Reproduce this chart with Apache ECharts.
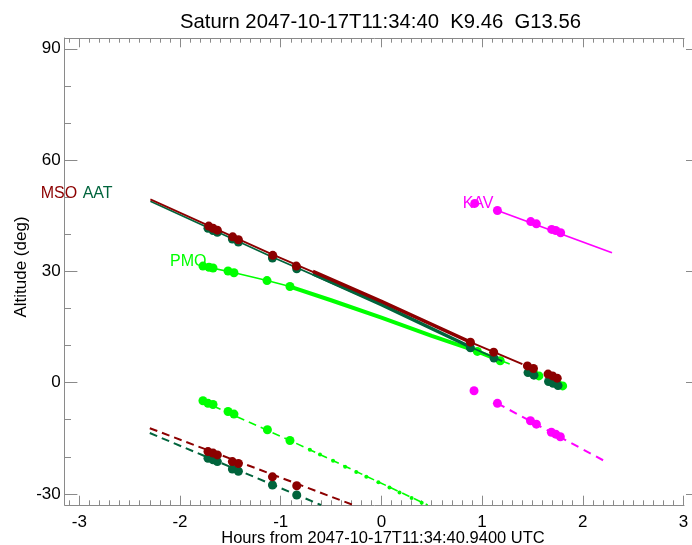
<!DOCTYPE html>
<html>
<head>
<meta charset="utf-8">
<script src="https://cdn.jsdelivr.net/npm/echarts@6/dist/echarts.min.js"></script>
<style>
html,body{margin:0;padding:0;background:#fff;}
#c{width:692px;height:545px;}
</style>
</head>
<body>
<div id="c"></div>
<script>
// ---------- data (hours from reference time, altitude deg) ----------
var titleText = 'Saturn 2047-10-17T11:34:40  K9.46  G13.56';
var xName = 'Hours from 2047-10-17T11:34:40.9400 UTC';
var yName = 'Altitude (deg)';

var xMajorTicks = [-3, -2, -1, 0, 1, 2, 3];
var yMajorTicks = [-30, 0, 30, 60, 90];
var yMinorTicks = [-20, -10, 10, 20, 40, 50, 70, 80];

// MSO
var msoLine = [[-2.294, 49.4], [-1.079, 34.5], [0.0, 21.9], [0.884, 10.9], [1.40, 5.0]];
var msoThick = [[-0.68, 30.0], [0.0, 21.9], [0.884, 10.9]];
var msoDotsX = [-1.715, -1.672, -1.629, -1.477, -1.42, -1.079, -0.845, 0.884, 1.115, 1.45, 1.51, 1.655, 1.70, 1.746];
var msoDotsY = [42.2, 41.6, 41.1, 39.3, 38.5, 34.3, 31.4, 10.9, 8.2, 4.5, 3.8, 2.3, 1.8, 1.2];
var msoLow = [[-2.30, -12.3], [-0.28, -33.0]];
var msoLowDotsX = [-1.722, -1.672, -1.629, -1.48, -1.42, -1.082, -0.841];
var msoLowDotsY = [-18.6, -19.0, -19.5, -21.3, -21.8, -25.4, -27.8];

// AAT
var aatLine = [[-2.294, 48.9], [-1.079, 33.8], [0.0, 21.0], [0.884, 9.6], [1.20, 5.8]];
var aatThick = [[-0.68, 29.3], [0.0, 21.0], [0.884, 9.6]];
var aatDotsX = [-1.722, -1.672, -1.629, -1.48, -1.42, -1.082, -0.841, 0.884, 1.118, 1.456, 1.515, 1.66, 1.705, 1.754];
var aatDotsY = [41.6, 41.0, 40.5, 38.7, 37.9, 33.6, 30.7, 9.4, 6.6, 2.7, 2.0, 0.3, -0.2, -0.8];
var aatLow = [[-2.30, -13.6], [-0.60, -33.0]];
var aatLowDotsX = [-1.722, -1.672, -1.629, -1.48, -1.42, -1.082, -0.841];
var aatLowDotsY = [-20.4, -20.8, -21.3, -23.3, -23.9, -27.6, -30.3];

// PMO
var pmoLine = [[-1.772, 31.4], [-1.46, 29.6], [-1.136, 27.5], [-0.908, 25.9], [-0.5, 22.2], [0.0, 17.5], [0.5, 12.6], [0.953, 8.4], [1.274, 5.0]];
var pmoThick = [[-0.908, 25.9], [-0.5, 22.2], [0.0, 17.5], [0.5, 12.6], [0.953, 8.4], [1.10, 6.8]];
var pmoDotsX = [-1.772, -1.712, -1.672, -1.523, -1.464, -1.136, -0.908, 0.953, 1.18, 1.515, 1.564, 1.705, 1.754, 1.80];
var pmoDotsY = [31.4, 31.1, 30.9, 30.1, 29.6, 27.5, 25.9, 8.4, 5.9, 2.4, 1.8, 0.1, -0.4, -0.9];
var pmoLow = [[-1.788, -4.9], [-0.908, -15.6], [0.46, -33.0]];
var pmoLowDotsX = [-1.772, -1.722, -1.672, -1.523, -1.464, -1.132, -0.908];
var pmoLowDotsY = [-4.9, -5.6, -5.9, -7.8, -8.5, -12.7, -15.6];
var pmoSmallX = [-0.71, -0.61, -0.48, -0.36, -0.25, -0.15, -0.03, 0.08, 0.18, 0.30, 0.40];
var pmoSmallY = [-18.1, -19.4, -21.1, -22.7, -24.1, -25.4, -26.9, -28.3, -29.6, -31.1, -32.4];

// KAV
var kavLine = [[1.152, 46.4], [2.29, 35.0]];
var kavDotsX = [0.927, 1.152, 1.483, 1.539, 1.691, 1.731, 1.78];
var kavDotsY = [48.3, 46.4, 43.4, 42.8, 41.3, 41.0, 40.4];
var kavLow = [[1.152, -5.6], [2.24, -21.5]];
var kavLowDotsX = [0.92, 1.152, 1.48, 1.539, 1.688, 1.731, 1.777];
var kavLowDotsY = [-2.2, -5.6, -10.3, -11.2, -13.4, -13.9, -14.6];

// ---------- style ----------
var C_MSO = '#8c0000', C_AAT = '#00643c', C_PMO = '#00ff00', C_KAV = '#ff00ff';
var AX = '#8a8a8a';
var FONT = "'Liberation Sans', Helvetica, Arial, sans-serif";
var XMIN = -3.145, XMAX = 3.005, YMIN = -33.0, YMAX = 92.9;
var DOT = 9;

function zip(xs, ys) { return xs.map(function (x, i) { return [x, ys[i]]; }); }
var xMinorTicks = [-3.1];
for (var i = 0; i < xMajorTicks.length - 1; i++) {
  for (var k = 1; k < 10; k++) xMinorTicks.push(+(xMajorTicks[i] + k * 0.1).toFixed(2));
}

function lineS(data, color, width, dash, z) {
  return { type: 'line', data: data, showSymbol: false, symbol: 'none', z: z || 2,
    lineStyle: { color: color, width: width, type: dash || 'solid' }, animation: false, silent: true };
}
function dotS(data, color, size, z) {
  return { type: 'scatter', data: data, symbol: 'circle', symbolSize: size || DOT, z: z || 3,
    itemStyle: { color: color, opacity: 1 }, animation: false, silent: true };
}

var xBase = { type: 'value', min: XMIN, max: XMAX, gridIndex: 0, splitLine: { show: false } };
function xa(pos, ticks, len, line, labels) {
  return Object.assign({}, xBase, {
    position: pos,
    axisLine: { show: line, onZero: false, lineStyle: { color: AX, width: 1 } },
    axisTick: { show: true, inside: true, length: len, customValues: ticks, lineStyle: { color: AX, width: 1 } },
    axisLabel: labels ? { show: true, customValues: ticks, color: '#000', fontSize: 17, fontFamily: FONT, margin: 9 } : { show: false }
  });
}
var yBase = { type: 'value', min: YMIN, max: YMAX, gridIndex: 0, splitLine: { show: false } };
function ya(pos, ticks, len, line, labels, offset) {
  return Object.assign({}, yBase, {
    position: pos, offset: offset || 0,
    axisLine: { show: line, onZero: false, lineStyle: { color: AX, width: 1 } },
    axisTick: { show: true, inside: true, length: len, customValues: ticks, lineStyle: { color: AX, width: 1 } },
    axisLabel: labels ? { show: true, customValues: ticks, color: '#000', fontSize: 17, fontFamily: FONT, margin: 4 } : { show: false }
  });
}

var chart = echarts.init(document.getElementById('c'), null, { renderer: 'canvas' });
var option = {
  backgroundColor: '#fff',
  animation: false,
  textStyle: { fontFamily: FONT },
  grid: { left: 64.7, right: 8, top: 38, bottom: 40, containLabel: false },
  xAxis: [
    xa('bottom', xMajorTicks, 9.3, true, true),
    xa('bottom', xMinorTicks, 4.7, false, false),
    xa('top', xMajorTicks, 9.3, true, false),
    xa('top', xMinorTicks, 4.7, false, false)
  ],
  yAxis: [
    ya('left', yMajorTicks, 12.7, true, true),
    ya('left', yMinorTicks, 6.3, false, false),
    ya('right', yMajorTicks, 13, false, false, 15)
  ],
  graphic: [
    { type: 'text', x: 380.5, y: 22.5, z: 10, style: { text: titleText, fill: '#000', font: "20.3px " + FONT, textAlign: 'center', textVerticalAlign: 'middle' } },
    { type: 'text', x: 383, y: 538, z: 10, style: { text: xName, fill: '#000', font: "16.5px " + FONT, textAlign: 'center', textVerticalAlign: 'middle' } },
    { type: 'text', x: 21, y: 267, rotation: Math.PI / 2, z: 10, style: { text: yName, fill: '#000', font: "17px " + FONT, textAlign: 'center', textVerticalAlign: 'middle' } },
    { type: 'text', x: 40.7, y: 194, z: 10, style: { text: 'MSO', fill: C_MSO, font: "16px " + FONT, textAlign: 'left', textVerticalAlign: 'middle' } },
    { type: 'text', x: 82.7, y: 194, z: 10, style: { text: 'AAT', fill: C_AAT, font: "16px " + FONT, textAlign: 'left', textVerticalAlign: 'middle' } },
    { type: 'text', x: 170, y: 261.7, z: 10, style: { text: 'PMO', fill: C_PMO, font: "16px " + FONT, textAlign: 'left', textVerticalAlign: 'middle' } },
    { type: 'text', x: 462.7, y: 204, z: 10, style: { text: 'KAV', fill: C_KAV, font: "16px " + FONT, textAlign: 'left', textVerticalAlign: 'middle' } }
  ],
  series: [
    Object.assign(lineS([], AX, 1), {
      markLine: { silent: true, symbol: 'none', animation: false, label: { show: false },
        lineStyle: { color: AX, width: 1, type: 'solid' },
        data: [[{ coord: [XMIN, 0] }, { coord: [3.1, 0] }]] }
    }),
    // PMO
    lineS(pmoLine, C_PMO, 1.6, 'solid', 2),
    lineS(pmoThick, C_PMO, 4, 'solid', 2),
    dotS(zip(pmoDotsX, pmoDotsY), C_PMO, DOT, 3),
    lineS(pmoLow, C_PMO, 1.6, [8, 5], 2),
    dotS(zip(pmoLowDotsX, pmoLowDotsY), C_PMO, DOT, 3),
    dotS(zip(pmoSmallX, pmoSmallY), C_PMO, 4, 3),
    // AAT
    lineS(aatLine, C_AAT, 1.8, 'solid', 4),
    lineS(aatThick, C_AAT, 3.5, 'solid', 4),
    dotS(zip(aatDotsX, aatDotsY), C_AAT, DOT, 5),
    lineS(aatLow, C_AAT, 2, [8, 5], 4),
    dotS(zip(aatLowDotsX, aatLowDotsY), C_AAT, DOT, 5),
    // MSO
    lineS(msoLine, C_MSO, 1.8, 'solid', 6),
    lineS(msoThick, C_MSO, 3.5, 'solid', 6),
    dotS(zip(msoDotsX, msoDotsY), C_MSO, DOT, 7),
    lineS(msoLow, C_MSO, 2, [8, 5], 6),
    dotS(zip(msoLowDotsX, msoLowDotsY), C_MSO, DOT, 7),
    // KAV
    lineS(kavLine, C_KAV, 1.8, 'solid', 8),
    dotS(zip(kavDotsX, kavDotsY), C_KAV, DOT, 9),
    lineS(kavLow, C_KAV, 2, [8, 6], 8),
    dotS(zip(kavLowDotsX, kavLowDotsY), C_KAV, DOT, 9)
  ]
};
chart.setOption(option);
</script>
</body>
</html>
